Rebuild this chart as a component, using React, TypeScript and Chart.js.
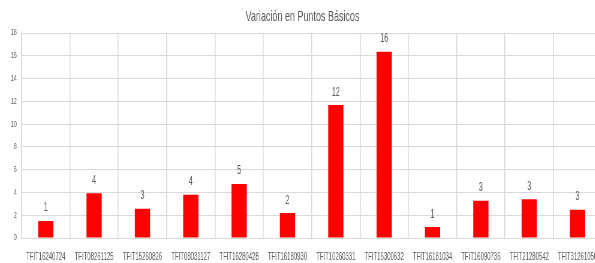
import React, { useEffect, useRef } from "react";
import { Chart, registerables } from "chart.js";

Chart.register(...registerables);

const categories = [
  "TFIT16240724",
  "TFIT08261125",
  "TFIT15260826",
  "TFIT08031127",
  "TFIT16280428",
  "TFIT16180930",
  "TFIT10260331",
  "TFIT16300632",
  "TFIT16181034",
  "TFIT16090736",
  "TFIT21280542",
  "TFIT31261050",
];

const variationValues = [1.5, 3.94, 2.57, 3.79, 4.75, 2.19, 11.67, 16.36, 0.96, 3.27, 3.41, 2.48];
const valueLabels = ["1", "4", "3", "4", "5", "2", "12", "16", "1", "3", "3", "3"];
const yTicks = [0, 2, 4, 6, 8, 10, 12, 14, 16, 18];

const titleText = "Variación en Puntos Básicos";

// horizontal squeeze of the original rendering
const SQUEEZE = 0.6;
const CANVAS_W = 1009;
const CANVAS_H = 263;
const FONT = "'Liberation Sans', Arial, sans-serif";
const TEXT_COLOR = "#595959";
const GRID_COLOR = "#d9d9d9";

const valueLabelPlugin = {
  id: "valueLabels",
  afterDatasetsDraw(chart: any) {
    const ctx = chart.ctx;
    const meta = chart.getDatasetMeta(0);
    ctx.save();
    ctx.font = `12px ${FONT}`;
    ctx.fillStyle = TEXT_COLOR;
    ctx.textAlign = "center";
    ctx.textBaseline = "alphabetic";
    meta.data.forEach((bar: any, i: number) => {
      ctx.fillText(valueLabels[i], bar.x, bar.y - 9.5);
    });
    ctx.restore();
  },
};

export default function App() {
  const canvasRef = useRef<HTMLCanvasElement | null>(null);

  useEffect(() => {
    const canvas = canvasRef.current;
    if (!canvas) return;
    const chart = new Chart(canvas, {
      type: "bar",
      data: {
        labels: categories,
        datasets: [
          {
            data: variationValues,
            backgroundColor: "#ff0000",
            borderWidth: 0,
            barPercentage: 0.315,
            categoryPercentage: 1,
          },
        ],
      },
      options: {
        responsive: false,
        animation: false,
        devicePixelRatio: 1,
        layout: { padding: 0 },
        plugins: {
          legend: { display: false },
          tooltip: { enabled: false },
          title: {
            display: true,
            text: titleText,
            color: TEXT_COLOR,
            font: { family: FONT, size: 15, weight: "normal" },
            padding: { top: 8, bottom: 7 },
          },
        },
        scales: {
          x: {
            afterFit(scale: any) {
              scale.height = 25;
            },
            grid: {
              color: GRID_COLOR,
              lineWidth: 1 / SQUEEZE,
              drawTicks: false,
              offset: true,
            },
            border: { color: GRID_COLOR, width: 1 },
            ticks: {
              color: TEXT_COLOR,
              font: { family: FONT, size: 10 },
              padding: 13,
              autoSkip: false,
              maxRotation: 0,
              minRotation: 0,
            },
          },
          y: {
            min: 0,
            max: 18,
            afterFit(scale: any) {
              scale.width = 36;
            },
            afterBuildTicks(scale: any) {
              scale.ticks = yTicks.map((v) => ({ value: v }));
            },
            grid: { color: GRID_COLOR, lineWidth: 1, drawTicks: false },
            border: { color: GRID_COLOR, width: 1 / SQUEEZE },
            ticks: {
              color: TEXT_COLOR,
              font: { family: FONT, size: 9 },
              padding: 8,
            },
          },
        },
      },
      plugins: [valueLabelPlugin],
    });
    return () => chart.destroy();
  }, []);

  return (
    <div
      style={{
        position: "absolute",
        left: 0,
        top: 0,
        width: 595,
        height: 263,
        overflow: "hidden",
        background: "#ffffff",
      }}
    >
      <canvas
        ref={canvasRef}
        width={CANVAS_W}
        height={CANVAS_H}
        style={{ width: `${CANVAS_W * SQUEEZE}px`, height: `${CANVAS_H}px`, display: "block" }}
      />
    </div>
  );
}
